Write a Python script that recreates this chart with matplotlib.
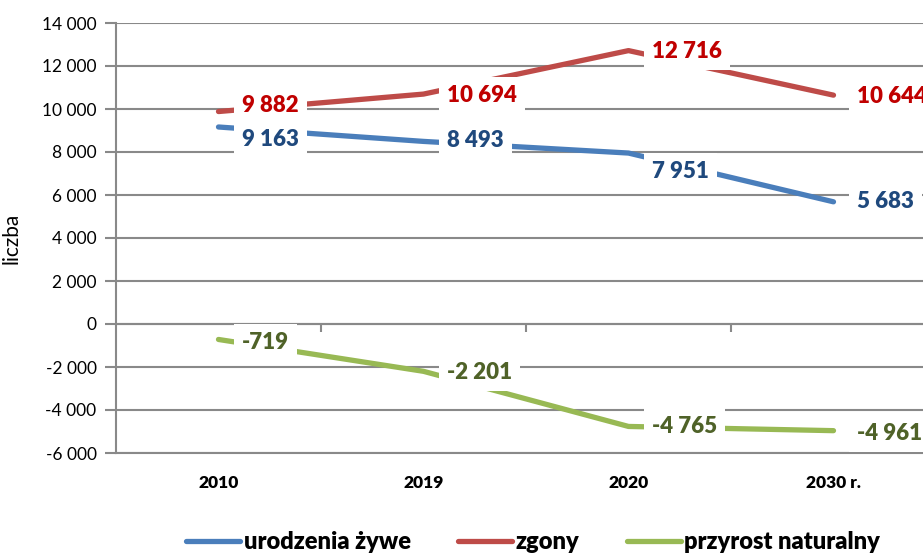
import matplotlib.pyplot as plt
import numpy as np

plt.rcParams['font.family'] = ['Lato', 'DejaVu Sans']

# data
years = ['2010', '2019', '2020', '2030 r.']
urodzenia = [9163, 8493, 7951, 5683]
zgony = [9882, 10694, 12716, 10644]
przyrost = [-719, -2201, -4765, -4961]

series_names = ['urodzenia żywe', 'zgony', 'przyrost naturalny']
line_colors = ['#4A7EBB', '#BE4B48', '#98B954']
label_colors = ['#1F497D', '#C00000', '#4F6228']
# vertical nudge of the data labels (points), like the manual moves in the source
dy_offsets = [[-9, 1, -13, 0], [4, -1, -1, -1], [-2, -1, 0, -2]]

fig = plt.figure(figsize=(9.23, 5.53), dpi=100)
ax = fig.add_axes([116/923, 1-453/553, 820/923, 430/553])

x = np.arange(len(years))
grid_c = '#898989'

for vals, name, lc, tc, dys in zip([urodzenia, zgony, przyrost], series_names,
                                   line_colors, label_colors, dy_offsets):
    ax.plot(x, vals, color=lc, lw=3.8, solid_capstyle='round', label=name, zorder=3)
    for xi, v, dy in zip(x, vals, dys):
        txt = f'{v:,}'.replace(',', ' ')
        ax.annotate(txt, (xi, v), xytext=(17, dy), textcoords='offset points',
                    ha='left', va='center', fontsize=16, fontweight='heavy', color=tc,
                    bbox=dict(boxstyle='square,pad=0.35', fc='white', ec='none'),
                    zorder=5, annotation_clip=False)

ax.set_xlim(-0.5, 3.5)
ax.set_ylim(-6000, 14000)
yt = np.arange(-6000, 14001, 2000)
ax.set_yticks(yt)
ax.set_yticklabels([f'{v:,}'.replace(',', ' ') for v in yt], fontsize=12.5)
ax.yaxis.grid(True, color=grid_c, lw=1.5)
ax.set_axisbelow(True)
ax.tick_params(axis='y', length=8, width=1.5, color=grid_c, pad=6)

ax.set_xticks(x)
ax.set_xticklabels(years, fontsize=12.5, fontweight='heavy')
ax.tick_params(axis='x', length=0, pad=16)

for s in ['top', 'right']:
    ax.spines[s].set_visible(False)
ax.spines['left'].set_color(grid_c)
ax.spines['left'].set_linewidth(1.5)
ax.spines['bottom'].set_color(grid_c)
ax.spines['bottom'].set_linewidth(1.5)

# category axis crossing at zero, with tick marks between categories
sec = ax.secondary_xaxis(6000/20000)
sec.set_xticks(x[:-1] + 0.5)
sec.set_xticklabels([])
sec.tick_params(length=6, width=1.5, color=grid_c, direction='out')
sec.spines['bottom'].set_color(grid_c)
sec.spines['bottom'].set_linewidth(1.5)

ax.set_ylabel('liczba', fontsize=15)
ax.yaxis.set_label_coords(-0.115, 0.5)

fig.legend(loc='center', bbox_to_anchor=(533/923, 11/553), ncol=3, frameon=False,
           prop={'size': 17, 'weight': 'heavy'}, handlelength=2.3, handletextpad=0.15,
           columnspacing=2.0)

fig.savefig('out.png', dpi=100)
